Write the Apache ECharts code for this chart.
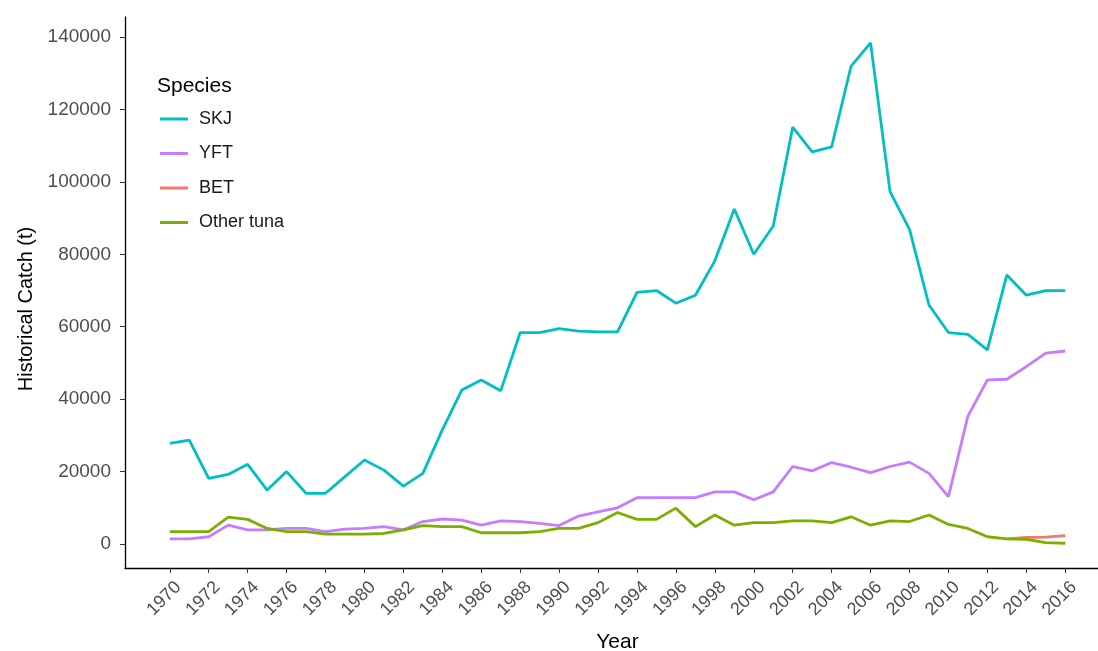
<!DOCTYPE html>
<html>
<head>
<meta charset="utf-8">
<script src="https://cdn.jsdelivr.net/npm/echarts@6/dist/echarts.min.js"></script>
<style>html,body{margin:0;padding:0;background:#fff;}#c{width:1098px;height:651px;}</style>
</head>
<body>
<div id="c"></div>
<script>
var years = [];
for (var y = 1970; y <= 2016; y++) years.push(y);
var xTicks = [1970,1972,1974,1976,1978,1980,1982,1984,1986,1988,1990,1992,1994,1996,1998,2000,2002,2004,2006,2008,2010,2012,2014,2016];
var yTicks = [0,20000,40000,60000,80000,100000,120000,140000];
var speciesNames = ['SKJ','YFT','BET','Other tuna'];
var SKJ = [27800,28700,18100,19200,22000,14900,20000,14000,14000,18600,23200,20400,16000,19500,31500,42500,45300,42300,58400,58400,59500,58800,58600,58600,69500,70000,66500,68700,78200,92500,80000,87800,115100,108300,109700,132000,138400,97300,86900,66000,58400,57900,53600,74300,68700,70000,70000];
var YFT = [1400,1400,2000,5200,3900,3900,4300,4300,3400,4100,4300,4800,3900,6200,6900,6600,5200,6400,6200,5700,5100,7700,8900,10000,12800,12800,12800,12800,14400,14400,12200,14400,21400,20200,22500,21200,19700,21400,22600,19500,13100,35300,45300,45500,49000,52700,53300];
var BET = [null,null,null,null,null,null,null,null,null,null,null,null,null,null,null,null,null,null,null,null,null,null,null,null,null,null,null,null,null,null,null,null,null,null,null,null,null,null,null,null,null,null,null,1400,1800,1900,2300];
var OTHER = [3400,3400,3400,7400,6800,4300,3400,3400,2700,2700,2700,2900,3900,5100,4800,4800,3100,3100,3100,3400,4300,4300,5900,8700,6800,6800,9900,4800,8000,5200,5900,5900,6400,6400,5900,7500,5200,6400,6200,8000,5400,4300,2000,1400,1300,400,200];
var seriesValues = [SKJ, YFT, BET, OTHER];
var colors = ['#00BFC4','#C77CFF','#F8766D','#7CAE00'];

function pairs(vals){ return years.map(function(yr,i){ return [yr, vals[i]]; }); }

var chart = echarts.init(document.getElementById('c'), null, {renderer:'canvas', width: 1098, height: 651});
var font = 'Liberation Sans, Arial, sans-serif';
chart.setOption({
  animation: false,
  backgroundColor: '#fff',
  grid: {left: 125, top: 17, width: 985, height: 551, containLabel: false, outerBoundsMode: 'none'},
  title: {text: 'Species', left: 152, top: 71, textStyle: {fontFamily: font, fontSize: 21, fontWeight: 'normal', color: '#000'}},
  legend: {
    data: speciesNames, orient: 'vertical', left: 155, top: 105,
    icon: 'rect', itemWidth: 28, itemHeight: 3, itemGap: 16.5,
    textStyle: {fontFamily: font, fontSize: 18, color: '#1a1a1a', padding: [0,0,0,6]}
  },
  xAxis: {
    type: 'value', min: 1967.7, max: 2018.3,
    name: 'Year', nameLocation: 'middle', nameGap: 64,
    nameTextStyle: {fontFamily: font, fontSize: 21, color: '#000'},
    axisLine: {onZero: false, lineStyle: {color: '#000', width: 1.3}},
    axisTick: {show: true, length: 5, customValues: xTicks, lineStyle: {color: '#333'}},
    axisLabel: {customValues: xTicks, rotate: 45, margin: 8, fontFamily: font, fontSize: 18, color: '#4d4d4d',
      align: 'right', verticalAlign: 'top', lineHeight: 24,
      formatter: function(v){ return String(v); }},
    splitLine: {show: false}
  },
  yAxis: {
    type: 'value', min: -6630, max: 145540,
    axisLine: {show: true, onZero: false, lineStyle: {color: '#000', width: 1.3}},
    axisTick: {show: true, length: 5, customValues: yTicks, lineStyle: {color: '#333'}},
    axisLabel: {customValues: yTicks, margin: 14, fontFamily: font, fontSize: 19, color: '#4d4d4d',
      formatter: function(v){ return String(v); }},
    splitLine: {show: false}
  },
  graphic: [{
    type: 'text', x: 26, y: 309, rotation: Math.PI/2,
    style: {text: 'Historical Catch (t)', fontFamily: font, fontSize: 20, fill: '#000', align: 'center', verticalAlign: 'middle'}
  }],
  series: speciesNames.map(function(n, i){
    return {name: n, type: 'line', data: pairs(seriesValues[i]), showSymbol: false, symbol: 'none',
      connectNulls: false, color: colors[i], lineStyle: {width: 2.8, color: colors[i]}, z: 2 + i};
  })
});
</script>
</body>
</html>
